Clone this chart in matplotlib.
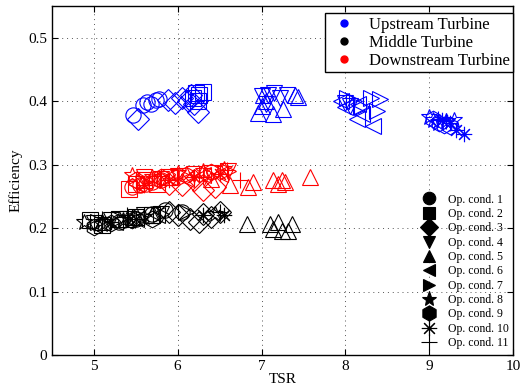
import matplotlib
matplotlib.use("Agg")
import matplotlib.pyplot as plt
from matplotlib.lines import Line2D

plt.rcParams['font.family'] = ['Liberation Serif', 'DejaVu Serif']
plt.rcParams['mathtext.fontset'] = 'stix'

# markers for op. conditions 1..11 (MATLAB style)
op_markers = ['o', 's', 'D', 'v', '^', '<', '>', '*', 'h', (8, 2, 0), '+']
op_labels = [f"Op. cond. {i}" for i in range(1, 12)]

# Upstream turbine: TSR / efficiency per op. condition
up_tsr = [
    [5.47, 5.59, 5.64, 5.68, 5.74, 5.78],
    [6.18, 6.22, 6.26, 6.30, 6.24],
    [5.53, 5.88, 5.97, 6.05, 6.12, 6.20, 6.24, 6.16],
    [7.00, 7.08, 7.15, 7.22, 7.30, 7.05, 8.00, 8.05],
    [6.96, 7.00, 7.05, 7.14, 7.26, 7.40, 7.44, 7.02],
    [7.95, 8.00, 8.14, 8.20, 8.33, 8.15],
    [8.02, 8.10, 8.20, 8.30, 8.41, 8.38],
    [9.00, 9.05, 9.10, 9.20, 9.30],
    [9.05, 9.12, 9.18, 9.25],
    [9.15, 9.25, 9.32, 9.42],
    [9.10, 9.20],
]
up_eff = [
    [0.378, 0.394, 0.398, 0.396, 0.402, 0.404],
    [0.405, 0.413, 0.410, 0.415, 0.400],
    [0.372, 0.402, 0.397, 0.405, 0.400, 0.395, 0.383, 0.410],
    [0.408, 0.410, 0.412, 0.405, 0.410, 0.395, 0.397, 0.392],
    [0.382, 0.392, 0.400, 0.380, 0.388, 0.410, 0.406, 0.410],
    [0.400, 0.390, 0.372, 0.380, 0.360, 0.395],
    [0.405, 0.400, 0.390, 0.405, 0.404, 0.385],
    [0.375, 0.370, 0.365, 0.368, 0.370],
    [0.372, 0.366, 0.363, 0.360],
    [0.370, 0.365, 0.355, 0.348],
    [0.372, 0.368],
]

# Middle turbine
mid_tsr = [
    [5.30, 5.50, 5.70, 5.85, 6.05],
    [4.95, 5.10, 5.30, 5.50, 5.70],
    [5.90, 6.00, 6.15, 6.30, 6.40, 6.50, 6.25],
    [5.00, 5.20, 5.40, 5.60, 5.80],
    [5.10, 5.40, 5.70, 6.83, 7.10, 7.20, 7.36, 7.14, 7.24, 7.32],
    [5.00, 5.25, 5.50, 5.75],
    [5.05, 5.30, 5.55, 5.80, 6.10],
    [4.88, 5.10, 5.35, 5.60, 6.45],
    [5.00, 5.20, 5.45, 5.70],
    [5.20, 5.50, 6.30, 6.55],
    [5.10, 5.40, 6.50],
]
mid_eff = [
    [0.210, 0.215, 0.222, 0.228, 0.225],
    [0.212, 0.205, 0.215, 0.218, 0.220],
    [0.225, 0.220, 0.215, 0.222, 0.218, 0.225, 0.210],
    [0.208, 0.212, 0.215, 0.220, 0.222],
    [0.210, 0.215, 0.220, 0.207, 0.207, 0.209, 0.207, 0.199, 0.196, 0.196],
    [0.205, 0.210, 0.215, 0.220],
    [0.210, 0.215, 0.218, 0.222, 0.225],
    [0.210, 0.207, 0.212, 0.218, 0.222],
    [0.202, 0.208, 0.212, 0.215],
    [0.210, 0.215, 0.220, 0.220],
    [0.215, 0.220, 0.225],
]

# Downstream turbine
down_tsr = [
    [5.45, 5.55, 5.62, 5.70, 5.80],
    [5.42, 5.50, 5.60, 5.75, 5.90],
    [5.90, 6.05, 6.20, 6.30, 6.45],
    [5.60, 5.80, 6.00, 6.20, 6.40, 6.60],
    [6.40, 6.62, 6.84, 6.90, 7.14, 7.20, 7.25, 7.28, 7.58],
    [5.50, 5.70, 5.90, 6.10, 6.30, 6.50],
    [5.60, 5.85, 6.10, 6.35, 6.60],
    [5.45, 5.70, 6.00, 6.30, 6.55],
    [5.50, 5.80, 6.10, 6.40],
    [5.60, 5.90, 6.20, 6.50],
    [6.30, 6.59, 6.74],
]
down_eff = [
    [0.265, 0.268, 0.270, 0.272, 0.275],
    [0.262, 0.270, 0.275, 0.270, 0.280],
    [0.270, 0.268, 0.275, 0.260, 0.265],
    [0.280, 0.278, 0.282, 0.285, 0.287, 0.290],
    [0.278, 0.268, 0.265, 0.273, 0.275, 0.270, 0.276, 0.272, 0.280],
    [0.270, 0.275, 0.280, 0.278, 0.283, 0.285],
    [0.272, 0.278, 0.280, 0.285, 0.290],
    [0.284, 0.280, 0.286, 0.290, 0.293],
    [0.275, 0.280, 0.284, 0.288],
    [0.268, 0.275, 0.280, 0.285],
    [0.280, 0.291, 0.275],
]

turbines = [
    ("Upstream Turbine", "#0000ff", up_tsr, up_eff),
    ("Middle Turbine", "black", mid_tsr, mid_eff),
    ("Downstream Turbine", "red", down_tsr, down_eff),
]

fig = plt.figure(figsize=(5.29, 3.91), dpi=100)
ax = fig.add_axes([0.098, 0.092, 0.872, 0.893])

for name, color, tsr, eff in turbines:
    for i in range(11):
        ax.plot(tsr[i], eff[i], linestyle='none', marker=op_markers[i],
                markersize=12 if op_markers[i] in ('*', 'h') else 11,
                markerfacecolor='none', markeredgecolor=color,
                markeredgewidth=0.8)

ax.set_xlim(4.5, 10)
ax.set_ylim(0, 0.55)
ax.set_xticks([5, 6, 7, 8, 9, 10])
ax.set_yticks([0, 0.1, 0.2, 0.3, 0.4, 0.5])
ax.set_yticklabels(['0', '0.1', '0.2', '0.3', '0.4', '0.5'])
ax.tick_params(direction='in', top=True, right=True, labelsize=11, length=4)
ax.grid(True, linestyle=(0, (1, 4)), color='#555555', linewidth=0.7)
for sp in ax.spines.values():
    sp.set_linewidth(1.0)
ax.set_xlabel("TSR", fontsize=11, labelpad=0)
ax.set_ylabel("Efficiency", fontsize=11, labelpad=4)

# legend for turbines
th = [Line2D([], [], linestyle='none', marker='o', markersize=5,
             color=c, markeredgecolor=c) for _, c, _, _ in turbines]
leg1 = ax.legend(th, [t[0] for t in turbines], loc='upper right',
                 bbox_to_anchor=(1.0, 0.98), borderaxespad=0,
                 fontsize=12, frameon=True,
                 fancybox=False, edgecolor='black', framealpha=1,
                 handletextpad=0.5, borderpad=0.22, labelspacing=0.12,
                 handlelength=1.9)
leg1.get_frame().set_linewidth(1.0)
ax.add_artist(leg1)

# legend for op. conditions
oh = [Line2D([], [], linestyle='none', marker=m,
             markersize=11 if m in ('*', 'h', (8, 2, 0), '+') else 9,
             color='black', markerfacecolor='black', markeredgewidth=0.8)
      for m in op_markers]
ax.legend(oh, op_labels, loc='lower right', bbox_to_anchor=(0.995, 0.01),
          borderaxespad=0, fontsize=8.5, frameon=False, labelspacing=0.2,
          handletextpad=0.8, handlelength=1.5, borderpad=0.2)

fig.savefig("out.png", dpi=100)
